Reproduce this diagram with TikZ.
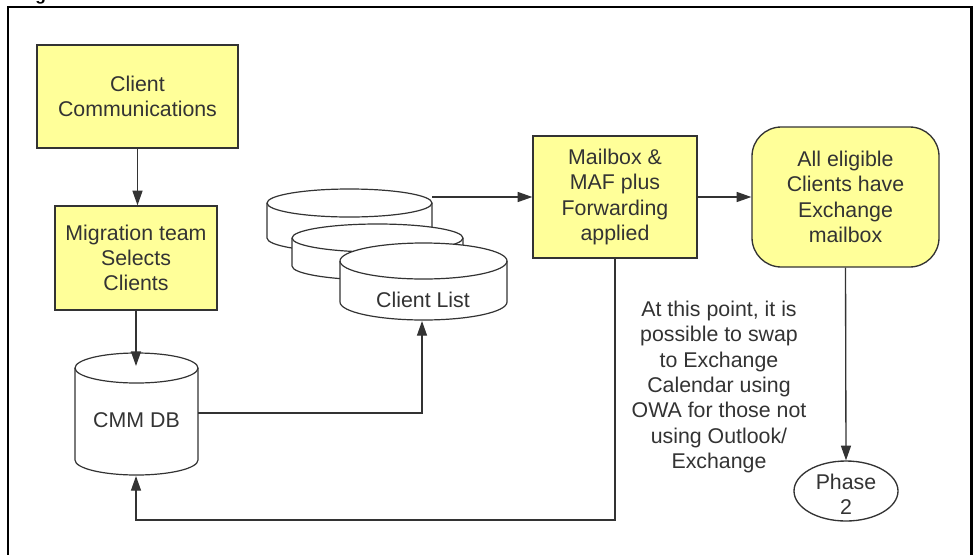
\documentclass[tikz,border=0pt]{standalone}
\usepackage{fontspec}
\setmainfont{Liberation Sans}
\usetikzlibrary{arrows.meta,shapes.geometric}
\definecolor{boxyellow}{HTML}{FFFF99}
\definecolor{ink}{HTML}{333333}
\newcommand\mycyl[5]{%
  \pgfmathsetmacro\cylrx{(#2-#1)/2*0.75}%
  \pgfmathsetmacro\cylry{#5*0.75}%
  \filldraw[draw=ink, fill=white, line width=0.9pt] (#1,-#3) -- (#1,-#4)
    arc[start angle=180,end angle=360,x radius=\cylrx pt,y radius=\cylry pt] -- (#2,-#3)
    arc[start angle=0,end angle=180,x radius=\cylrx pt,y radius=\cylry pt] -- cycle;
  \draw[ink, line width=0.9pt] (#1,-#3)
    arc[start angle=180,end angle=360,x radius=\cylrx pt,y radius=\cylry pt];}
\begin{document}
\begin{tikzpicture}[x=0.75pt,y=0.75pt,
  txt/.style={font=\fontsize{16}{19}\selectfont, text=ink, align=center, inner sep=0pt},
  procbox/.style={txt, draw=ink, fill=boxyellow, line width=1pt},
  conn/.style={draw=ink, line width=1pt, -{Triangle[length=11pt,width=7.5pt]}}]
\useasboundingbox (0,0) rectangle (973,-554);
\fill[white] (0,0) rectangle (973,-554);
% outer frame
\draw[black, line width=2pt] (8,-620) -- (8,-7) -- (971.5,-7) -- (971.5,-620);
\node[font=\bfseries\fontsize{13}{13}\selectfont, anchor=base west, text=black, inner sep=0pt] (figlabel) at (35,0) {g};

% boxes
\node[procbox, minimum width={201*0.75pt}, minimum height={103*0.75pt}] (comm) at (137.5,-96.5) {Client\\Communications};
\node[procbox, minimum width={162*0.75pt}, minimum height={104*0.75pt}] (mig) at (136,-258) {Migration team\\Selects\\Clients};
\node[procbox, minimum width={164*0.75pt}, minimum height={122*0.75pt}] (mail) at (615,-197) {Mailbox \&\\MAF plus\\Forwarding\\applied};
\node[procbox, rounded corners=22pt, minimum width={187*0.75pt}, minimum height={140*0.75pt}] (all) at (845.5,-197) {All eligible\\Clients have\\Exchange\\mailbox};
\node[ellipse, draw=ink, fill=white, line width=1pt, inner sep=0pt, minimum width={104*0.75pt}, minimum height={60*0.75pt}] (phase) at (846,-491) {};
\node[txt] (phasetxt) at (846,-494.5) {Phase\\2};

% cylinders
\mycyl{75}{198}{368}{460}{15}
\node[txt] (cmm) at (136.5,-420) {CMM DB};
\mycyl{267}{432}{203}{238}{14}
\mycyl{292}{463}{238}{266}{14}
\mycyl{340}{507}{261}{302}{18}
\node[txt] (cl) at (423,-300) {Client List};

% note
\node[txt] (note) at (719,-387) {At this point, it is\\possible to swap\\to Exchange\\Calendar using\\OWA for those not\\using Outlook/\\Exchange};

% named connection points
\coordinate (cmmtop) at (136,-366);
\coordinate (cmmbot) at (136,-476);
\coordinate (cmmeast) at (198,-413);
\coordinate (clbot) at (422,-321);
\coordinate (clout) at (432,-197);
\coordinate (bend) at (615,-520);

% connectors
\draw[conn] (comm.south) -- (comm.south |- mig.north);
\draw[conn] (mig.south) -- (cmmtop);
\draw[conn] (cmmeast) -| (clbot);
\draw[conn] (clout) -- (clout -| mail.west);
\draw[conn] (mail.east) -- (all.west);
\draw[conn] (all.south) -- (phase.north);
\draw[conn] (mail.south) -- (bend) -| (cmmbot);
\end{tikzpicture}
\end{document}
